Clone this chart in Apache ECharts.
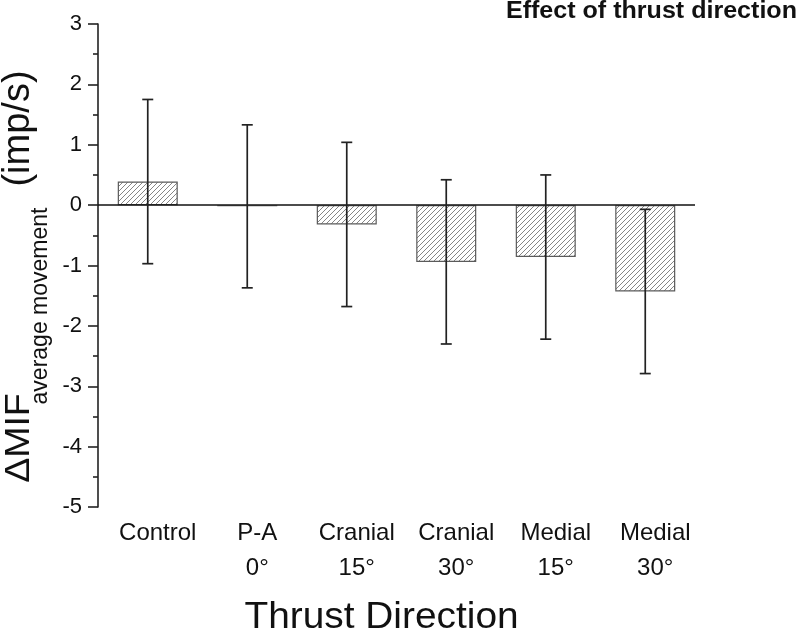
<!DOCTYPE html>
<html>
<head>
<meta charset="utf-8">
<script src="https://cdn.jsdelivr.net/npm/echarts@6/dist/echarts.min.js"></script>
<style>html,body{margin:0;padding:0;background:#fff}#c{width:800px;height:631px}</style>
</head>
<body>
<div id="c"></div>
<script>
const categories = ['Control', 'P-A\n0°', 'Cranial\n15°', 'Cranial\n30°', 'Medial\n15°', 'Medial\n30°'];
const means = [0.39, -0.02, -0.32, -0.94, -0.86, -1.43];
const errors = [1.36, 1.35, 1.36, 1.36, 1.36, 1.36];
const yMin = -5, yMax = 3, yStep = 1;

function hatch() {
  const s = 5;
  const c = document.createElement('canvas');
  c.width = s; c.height = s;
  const g = c.getContext('2d');
  g.fillStyle = '#ffffff'; g.fillRect(0, 0, s, s);
  g.strokeStyle = '#858585'; g.lineWidth = 1;
  g.beginPath();
  g.moveTo(0, s); g.lineTo(s, 0);
  g.moveTo(-1, 1); g.lineTo(1, -1);
  g.moveTo(s - 1, s + 1); g.lineTo(s + 1, s - 1);
  g.stroke();
  return c;
}

const chart = echarts.init(document.getElementById('c'), null, {renderer: 'canvas'});
const font = 'Liberation Sans, Arial, sans-serif';
chart.setOption({
  backgroundColor: '#fff',
  animation: false,
  grid: {left: 98, right: 105, top: 24, bottom: 124},
  xAxis: {
    type: 'category',
    data: categories,
    axisLine: {show: false, onZero: false},
    axisTick: {show: false},
    axisLabel: {
      color: '#111', fontFamily: font, fontSize: 24, lineHeight: 35,
      margin: 9, padding: [0, 0, 0, 20], interval: 0
    }
  },
  yAxis: {
    type: 'value', min: yMin, max: yMax, interval: yStep,
    axisLine: {show: true, lineStyle: {color: '#222', width: 1.6}},
    axisTick: {show: true, inside: false, length: 10, lineStyle: {color: '#222', width: 1.6}},
    minorTick: {show: true, splitNumber: 2, length: 5, lineStyle: {color: '#222', width: 1.6}},
    splitLine: {show: false},
    axisLabel: {color: '#111', fontFamily: font, fontSize: 22, margin: 16}
  },
  series: [
    {
      type: 'bar',
      data: means,
      barWidth: 60,
      itemStyle: {color: {image: hatch(), repeat: 'repeat'}, borderColor: '#5a5a5a', borderWidth: 1.2},
      markLine: {
        silent: true, symbol: 'none', label: {show: false},
        lineStyle: {color: '#111', width: 1.6, type: 'solid'},
        data: [{yAxis: 0}]
      },
      z: 2
    },
    {
      type: 'custom',
      data: means.map((m, i) => [i, m - errors[i], m + errors[i]]),
      renderItem: function (params, api) {
        const lo = api.coord([api.value(0), api.value(1)]);
        const hi = api.coord([api.value(0), api.value(2)]);
        const hw = 5.5;
        const st = {stroke: '#222', lineWidth: 1.7};
        return {
          type: 'group',
          children: [
            {type: 'line', shape: {x1: lo[0], y1: lo[1], x2: hi[0], y2: hi[1]}, style: st},
            {type: 'line', shape: {x1: lo[0] - hw, y1: lo[1], x2: lo[0] + hw, y2: lo[1]}, style: st},
            {type: 'line', shape: {x1: hi[0] - hw, y1: hi[1], x2: hi[0] + hw, y2: hi[1]}, style: st}
          ]
        };
      },
      z: 5
    }
  ],
  graphic: [
    {type: 'text', x: 797, y: 0, scaleX: 1.09, style: {text: 'Effect of thrust direction', font: 'bold 23px ' + font, fill: '#111', align: 'right', verticalAlign: 'top'}},
    {type: 'text', x: 381.5, y: 618, scaleX: 1.05, style: {text: 'Thrust Direction', font: '37px ' + font, fill: '#111', align: 'center', verticalAlign: 'middle'}},
    {type: 'text', x: 19.5, y: 438, rotation: Math.PI / 2, scaleX: 1.07, style: {text: 'ΔMIF', font: '35px ' + font, fill: '#111', align: 'center', verticalAlign: 'middle'}},
    {type: 'text', x: 40.5, y: 306, rotation: Math.PI / 2, style: {text: 'average movement', font: '23px ' + font, fill: '#111', align: 'center', verticalAlign: 'middle'}},
    {type: 'text', x: 19, y: 128.5, rotation: Math.PI / 2, style: {text: '(imp/s)', font: '38px ' + font, fill: '#111', align: 'center', verticalAlign: 'middle'}}
  ]
});
</script>
</body>
</html>
